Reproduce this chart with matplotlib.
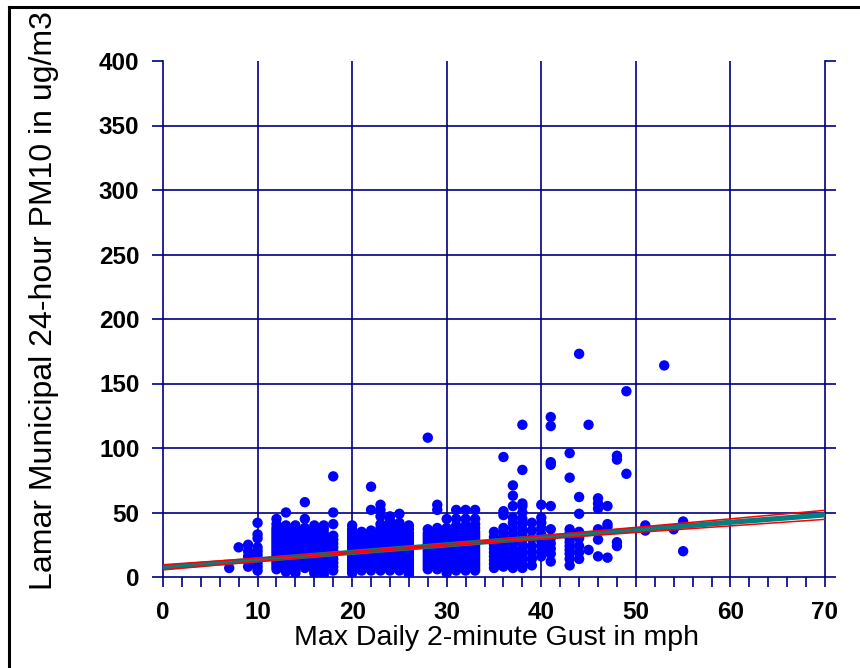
import matplotlib
matplotlib.use("Agg")
import matplotlib.pyplot as plt
from matplotlib.lines import Line2D

plt.rcParams['font.family'] = ['Liberation Sans', 'DejaVu Sans']

# ---- data: PM10 (ug/m3) observed at each max daily 2-minute gust (mph) ----
gust_speeds = [7, 8, 9, 10, 12, 13, 14, 15, 16, 17, 18, 20, 21, 22, 23, 24, 25, 26,
               28, 29, 30, 31, 32, 33, 35, 36, 37, 38, 39, 40, 41, 43, 44, 45, 46,
               47, 48, 49, 51, 53, 54, 55]

pm10_g07 = [7]
pm10_g08 = [23]
pm10_g09 = [8, 12, 16, 20, 25]
pm10_g10 = [5, 8, 11, 14, 17, 20, 23, 30, 33, 42]
pm10_g12 = [6, 8, 10, 12, 14, 16, 18, 20, 22, 24, 26, 28, 30, 32, 34, 36, 38, 41, 45]
pm10_g13 = [4, 6, 8, 10, 12, 14, 16, 18, 20, 22, 24, 26, 28, 30, 32, 34, 36, 38, 40, 50]
pm10_g14 = [3, 5, 7, 9, 11, 13, 15, 17, 19, 21, 23, 25, 27, 29, 31, 33, 35, 37, 40]
pm10_g15 = [7, 9, 11, 13, 15, 17, 19, 21, 23, 25, 27, 29, 31, 33, 35, 38, 45, 58]
pm10_g16 = [3, 5, 7, 9, 11, 13, 15, 17, 19, 21, 23, 25, 27, 29, 31, 33, 35, 37, 40]
pm10_g17 = [2, 4, 6, 8, 10, 12, 14, 16, 18, 20, 22, 24, 26, 28, 30, 32, 34, 37, 40]
pm10_g18 = [5, 8, 11, 14, 17, 20, 23, 26, 29, 32, 41, 50, 78]
pm10_g20 = [3, 5, 7, 9, 11, 13, 15, 17, 19, 21, 23, 25, 27, 29, 31, 33, 35, 37, 40]
pm10_g21 = [5, 7, 9, 11, 13, 15, 17, 19, 21, 23, 25, 27, 29, 31, 33, 35]
pm10_g22 = [5, 7, 9, 11, 13, 15, 17, 19, 21, 23, 25, 27, 29, 31, 33, 36, 52, 70]
pm10_g23 = [5, 7, 9, 11, 13, 15, 17, 19, 21, 23, 25, 27, 29, 31, 33, 35, 38, 41, 47, 52, 56]
pm10_g24 = [5, 7, 9, 11, 13, 15, 17, 19, 21, 23, 25, 27, 29, 31, 33, 35, 38, 41, 44, 47]
pm10_g25 = [5, 7, 9, 11, 13, 15, 17, 19, 21, 23, 25, 27, 29, 31, 33, 35, 38, 42, 49]
pm10_g26 = [2, 4, 6, 8, 10, 12, 14, 16, 18, 20, 22, 24, 26, 28, 30, 32, 34, 37, 40]
pm10_g28 = [6, 8, 10, 12, 14, 16, 18, 20, 22, 24, 26, 28, 30, 32, 34, 37, 108]
pm10_g29 = [6, 8, 10, 12, 14, 16, 18, 20, 22, 24, 26, 28, 30, 32, 35, 38, 52, 56]
pm10_g30 = [3, 5, 7, 9, 11, 13, 15, 17, 19, 21, 23, 25, 27, 29, 31, 33, 35, 38, 45]
pm10_g31 = [5, 7, 9, 11, 13, 15, 17, 19, 21, 23, 25, 27, 29, 31, 33, 35, 37, 40, 45, 52]
pm10_g32 = [5, 7, 9, 11, 13, 15, 17, 19, 21, 23, 25, 27, 29, 31, 33, 35, 37, 40, 45, 52]
pm10_g33 = [5, 7, 9, 11, 13, 15, 17, 19, 21, 23, 25, 27, 29, 31, 33, 35, 38, 41, 45, 52]
pm10_g35 = [7, 10, 13, 16, 19, 22, 25, 28, 31, 35]
pm10_g36 = [8, 11, 14, 17, 20, 23, 26, 30, 34, 38, 48, 51, 93]
pm10_g37 = [7, 10, 13, 16, 19, 22, 26, 30, 34, 38, 42, 46, 55, 63, 71]
pm10_g38 = [7, 10, 13, 16, 19, 22, 25, 29, 33, 37, 41, 45, 50, 55, 57, 83, 118]
pm10_g39 = [9, 14, 19, 24, 30, 36, 42]
pm10_g40 = [16, 20, 24, 28, 33, 38, 42, 46, 56]
pm10_g41 = [12, 18, 22, 26, 30, 37, 55, 87, 89, 117, 124]
pm10_g43 = [9, 14, 18, 21, 24, 27, 30, 34, 37, 77, 96]
pm10_g44 = [14, 19, 24, 30, 35, 49, 62, 173]
pm10_g45 = [21, 118]
pm10_g46 = [16, 29, 37, 53, 57, 61]
pm10_g47 = [15, 39, 41, 55]
pm10_g48 = [24, 27, 91, 94]
pm10_g49 = [80, 144]
pm10_g51 = [36, 40]
pm10_g53 = [164]
pm10_g54 = [37]
pm10_g55 = [20, 43]

pm10_columns = [pm10_g07, pm10_g08, pm10_g09, pm10_g10, pm10_g12, pm10_g13, pm10_g14,
                pm10_g15, pm10_g16, pm10_g17, pm10_g18, pm10_g20, pm10_g21, pm10_g22,
                pm10_g23, pm10_g24, pm10_g25, pm10_g26, pm10_g28, pm10_g29, pm10_g30,
                pm10_g31, pm10_g32, pm10_g33, pm10_g35, pm10_g36, pm10_g37, pm10_g38,
                pm10_g39, pm10_g40, pm10_g41, pm10_g43, pm10_g44, pm10_g45, pm10_g46,
                pm10_g47, pm10_g48, pm10_g49, pm10_g51, pm10_g53, pm10_g54, pm10_g55]

# regression line and confidence band
fit_x = [0, 10, 20, 30, 40, 50, 60, 70]
fit_y = [7.5, 13.3, 19.1, 24.9, 30.7, 36.5, 42.4, 48.2]
ci_upper = [9.5, 14.6, 19.8, 25.6, 32.0, 38.5, 45.1, 51.7]
ci_lower = [5.5, 12.0, 18.4, 24.2, 29.4, 34.5, 39.6, 44.7]

x_ticks = [0, 10, 20, 30, 40, 50, 60, 70]
y_ticks = [0, 50, 100, 150, 200, 250, 300, 350, 400]

# ---- drawing ----
W, H = 860, 668
fig = plt.figure(figsize=(W / 100, H / 100), dpi=100)
ax = fig.add_axes([163 / W, 1 - 577 / H, (825 - 163) / W, (577 - 61) / H])

navy = '#000080'
gx, gy = [], []
for g, col in zip(gust_speeds, pm10_columns):
    gx.extend([g] * len(col))
    gy.extend(col)

# grid (not at 0 / 400)
for yv in y_ticks[1:-1]:
    ax.axhline(yv, color=navy, lw=1.2, zorder=1)
for xv in x_ticks[1:-1]:
    ax.axvline(xv, color=navy, lw=1.2, zorder=1)

ax.scatter(gx, gy, s=56, color='#0000FF', edgecolors='none', zorder=3)
ax.plot(fit_x, fit_y, color='#008080', lw=3.8, zorder=4, solid_capstyle='butt')
ax.plot(fit_x, ci_upper, color='#FF0000', lw=1.1, zorder=5)
ax.plot(fit_x, ci_lower, color='#FF0000', lw=1.1, zorder=5)

ax.set_xlim(0, 70)
ax.set_ylim(0, 400)
ax.set_xticks(x_ticks)
ax.set_xticks(range(0, 71, 2), minor=True)
ax.set_yticks(y_ticks)

for s in ['left', 'right', 'bottom']:
    ax.spines[s].set_color(navy)
    ax.spines[s].set_linewidth(1.2)
ax.spines['top'].set_visible(False)

ax.tick_params(axis='x', which='major', direction='out', length=7, width=1.2,
               color=navy, pad=10, labelsize=17.5)
ax.tick_params(axis='x', which='minor', direction='out', length=7, width=1.2, color=navy)
ax.tick_params(axis='y', which='major', direction='out', length=8, width=1.2,
               color=navy, left=True, right=True, pad=9, labelsize=17.5)
for lab in ax.get_xticklabels() + ax.get_yticklabels():
    lab.set_fontweight('bold')

fig.text(496 / W, 1 - 645 / H, 'Max Daily 2-minute Gust in mph', ha='center',
         va='baseline', fontsize=20.5)
fig.text(44 / W, 1 - 590 / H, 'Lamar Municipal 24-hour PM10 in ug/m3', ha='center',
         va='bottom', rotation=90, fontsize=23)

# outer frame (top and left edges)
fig.add_artist(Line2D([8.5 / W, 8.5 / W], [0, 1 - 6.5 / H], transform=fig.transFigure,
                      color='black', lw=2.2, zorder=10))
fig.add_artist(Line2D([8.5 / W, 1], [1 - 6.5 / H, 1 - 6.5 / H], transform=fig.transFigure,
                      color='black', lw=2.2, zorder=10))

fig.savefig('out.png', dpi=100)
